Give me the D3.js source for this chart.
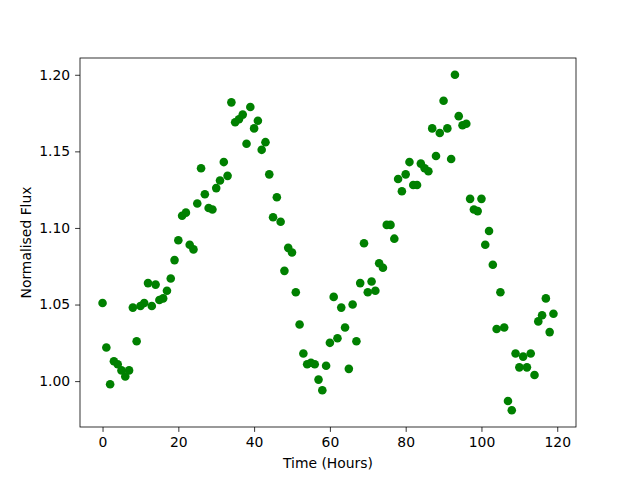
<!DOCTYPE html>
<html>
<head>
<meta charset="utf-8">
<script src="https://cdn.jsdelivr.net/npm/d3@7"></script>
<style>
  body { margin: 0; background: #fff; }
  text { font-family: "DejaVu Sans", sans-serif; }
</style>
</head>
<body>
<svg id="chart" width="640" height="480"></svg>
<script>

// hours 0..119, one reading each
const hours = d3.range(0, 120)

const flux = [
  1.051, 1.022, 0.998, 1.013, 1.011, 1.007, 1.003, 1.007, 1.048, 1.026,
  1.049, 1.051, 1.064, 1.049, 1.063, 1.053, 1.054, 1.059, 1.067, 1.079,
  1.092, 1.108, 1.110, 1.089, 1.086, 1.116, 1.139, 1.122, 1.113, 1.112,
  1.126, 1.131, 1.143, 1.134, 1.182, 1.169, 1.171, 1.174, 1.155, 1.179,
  1.165, 1.170, 1.151, 1.156, 1.135, 1.107, 1.120, 1.104, 1.072, 1.087,
  1.084, 1.058, 1.037, 1.018, 1.011, 1.012, 1.011, 1.001, 0.994, 1.010,
  1.025, 1.055, 1.028, 1.048, 1.035, 1.008, 1.050, 1.026, 1.064, 1.090,
  1.058, 1.065, 1.059, 1.077, 1.074, 1.102, 1.102, 1.093, 1.132, 1.124,
  1.135, 1.143, 1.128, 1.128, 1.142, 1.139, 1.137, 1.165, 1.147, 1.162,
  1.183, 1.165, 1.145, 1.200, 1.173, 1.167, 1.168, 1.119, 1.112, 1.111,
  1.119, 1.089, 1.098, 1.076, 1.034, 1.058, 1.035, 0.987, 0.981, 1.018,
  1.009, 1.016, 1.009, 1.018, 1.004, 1.039, 1.043, 1.054, 1.032, 1.044
]

const xTicks = [0, 20, 40, 60, 80, 100, 120]
const yTicks = [1.00, 1.05, 1.10, 1.15, 1.20]

const margin = { top: 58, right: 64, bottom: 53, left: 80 }
const width = 640 - margin.left - margin.right
const height = 480 - margin.top - margin.bottom

const svg = d3.select("#chart")

const g = svg.append("g")
  .attr("transform", `translate(${margin.left},${margin.top})`)

// matplotlib style 5% padding
const xPad = (d3.max(hours) - d3.min(hours)) * 0.05
const yPad = (d3.max(flux) - d3.min(flux)) * 0.05

const x = d3.scaleLinear()
  .domain([d3.min(hours) - xPad, d3.max(hours) + xPad])
  .range([0, width])

const y = d3.scaleLinear()
  .domain([d3.min(flux) - yPad, d3.max(flux) + yPad])
  .range([height, 0])

const xAxis = g.append("g")
  .attr("transform", `translate(0,${height})`)
  .call(d3.axisBottom(x).tickValues(xTicks).tickFormat(d3.format("d")).tickSize(4.9).tickPadding(4.9))

const yAxis = g.append("g")
  .call(d3.axisLeft(y).tickValues(yTicks).tickFormat(d3.format(".2f")).tickSize(4.9).tickPadding(4.9))

;[xAxis, yAxis].forEach((a) => {
  a.select(".domain").remove()
  a.selectAll("text")
    .style("font-size", "13.9px")
    .style("font-family", "DejaVu Sans, sans-serif")
    .attr("fill", "#000")
  a.selectAll("line").attr("stroke", "#000").attr("stroke-width", 0.8)
})

// frame
g.append("rect")
  .attr("x", 0)
  .attr("y", 0)
  .attr("width", width)
  .attr("height", height)
  .attr("fill", "none")
  .attr("stroke", "#000")
  .attr("stroke-width", 0.8)

g.append("g")
  .selectAll("circle")
  .data(hours)
  .join("circle")
  .attr("cx", (d) => x(d))
  .attr("cy", (d, i) => y(flux[i]))
  .attr("r", 4.3)
  .attr("fill", "#008000")

svg.append("text")
  .attr("x", margin.left + width / 2)
  .attr("y", 468)
  .attr("text-anchor", "middle")
  .style("font-size", "13.9px")
  .text("Time (Hours)")

svg.append("text")
  .attr("transform", `translate(31,${margin.top + height / 2}) rotate(-90)`)
  .attr("text-anchor", "middle")
  .style("font-size", "13.9px")
  .text("Normalised Flux")

</script>
</body>
</html>
